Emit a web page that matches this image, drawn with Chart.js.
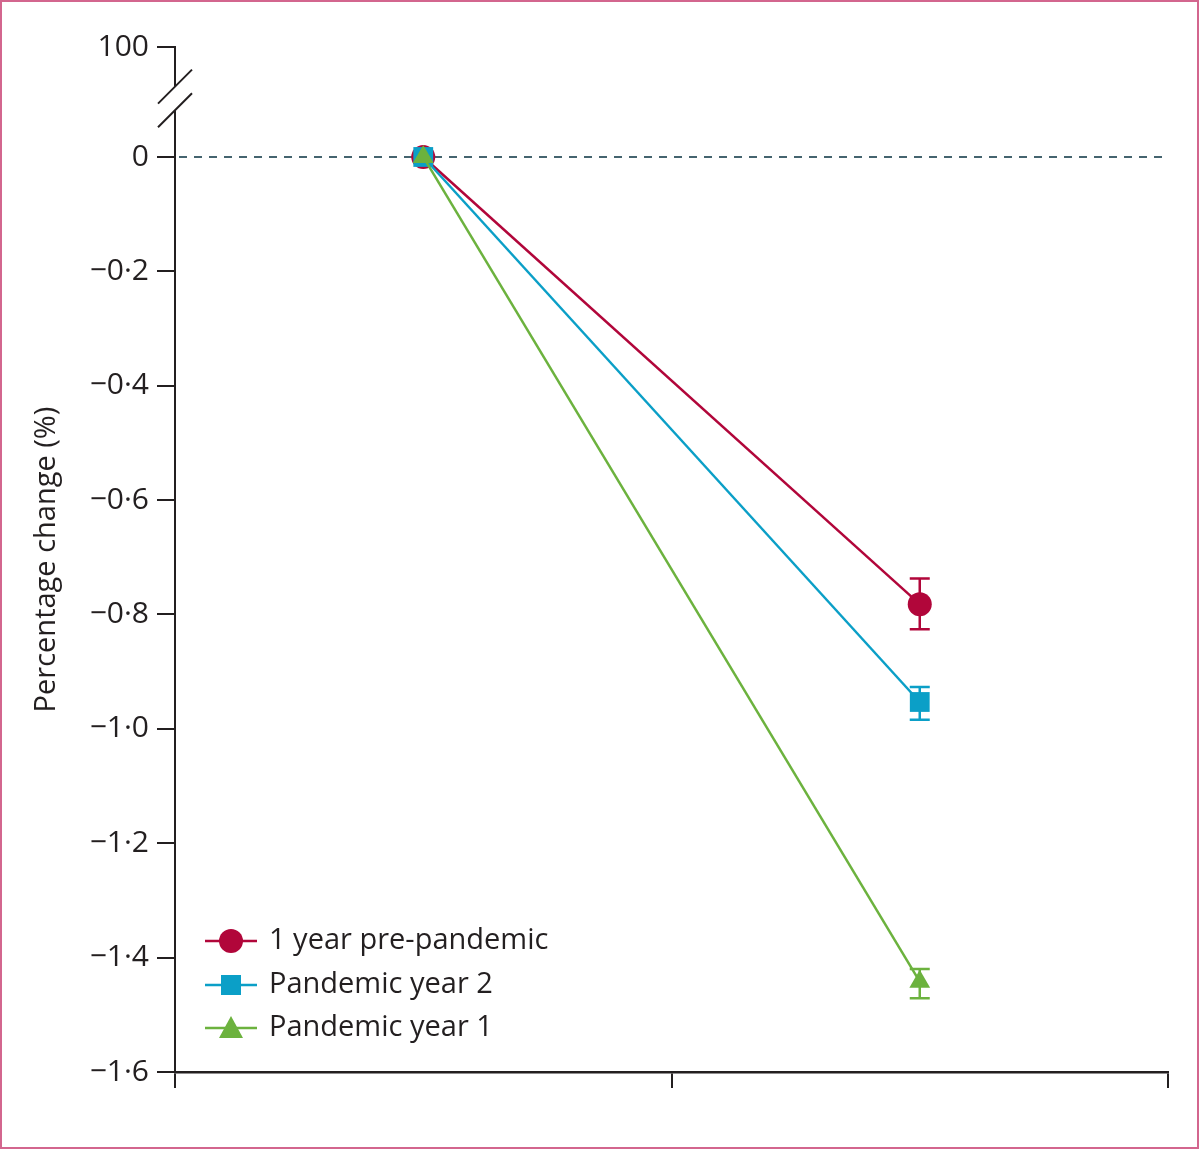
<!DOCTYPE html>
<html>
<head>
<meta charset="utf-8">
<script src="https://cdn.jsdelivr.net/npm/chart.js@4.4.1/dist/chart.umd.min.js"></script>
<style>
html,body{margin:0;padding:0;background:#fff;}
#wrap{width:1200px;height:1150px;position:relative;}
</style>
</head>
<body>
<div id="wrap"><canvas id="c" width="1200" height="1150"></canvas></div>
<script>
// ---- data ----
const categories = ['Baseline', 'Follow-up'];
const seriesNames = ['1 year pre-pandemic', 'Pandemic year 2', 'Pandemic year 1'];
const prePandemic = [0, -0.782];
const prePandemicLow = [0, -0.826];
const prePandemicHigh = [0, -0.737];
const pandemicYear2 = [0, -0.953];
const pandemicYear2Low = [0, -0.984];
const pandemicYear2High = [0, -0.927];
const pandemicYear1 = [0, -1.442];
const pandemicYear1Low = [0, -1.471];
const pandemicYear1High = [0, -1.420];
const yTickValues = [-1.6, -1.4, -1.2, -1.0, -0.8, -0.6, -0.4, -0.2, 0];
const yBreakTickLabel = '100';
const yBreakTickPos = 0.1923; // position where the broken axis shows 100

const RED = '#b1063a', BLUE = '#0b9fc7', GREEN = '#6cb23e';
const INK = '#231f20';
const FONT = '"Open Sans", Lato, sans-serif';

function fmt(v) {
  if (Math.abs(v - yBreakTickPos) < 1e-6) return yBreakTickLabel;
  if (Math.abs(v) < 1e-9) return '0';
  return v.toFixed(1).replace('-', '\u2212').replace('.', '\u00B7');
}

const errorBars = {
  id: 'errorBars',
  beforeDatasetsDraw(chart) {
    const ctx = chart.ctx, ys = chart.scales.y;
    chart.data.datasets.forEach((ds, i) => {
      const meta = chart.getDatasetMeta(i);
      meta.data.forEach((pt, j) => {
        const lo = ds.errLow[j], hi = ds.errHigh[j];
        if (lo === hi) return;
        const x = pt.x, y1 = ys.getPixelForValue(lo), y2 = ys.getPixelForValue(hi);
        ctx.save();
        ctx.strokeStyle = ds.borderColor; ctx.lineWidth = 2.5;
        ctx.beginPath();
        ctx.moveTo(x, y1); ctx.lineTo(x, y2);
        ctx.moveTo(x - 10, y1); ctx.lineTo(x + 10, y1);
        ctx.moveTo(x - 10, y2); ctx.lineTo(x + 10, y2);
        ctx.stroke();
        ctx.restore();
      });
    });
  }
};

const zeroLine = {
  id: 'zeroLine',
  beforeDatasetsDraw(chart) {
    const ctx = chart.ctx, a = chart.chartArea, y = chart.scales.y.getPixelForValue(0);
    ctx.save();
    ctx.strokeStyle = '#45646f'; ctx.lineWidth = 2; ctx.setLineDash([8, 7]);
    ctx.beginPath(); ctx.moveTo(a.left + 4, y); ctx.lineTo(a.right, y); ctx.stroke();
    ctx.restore();
  }
};

function drawMarker(ctx, style, x, y, color) {
  ctx.fillStyle = color;
  ctx.beginPath();
  if (style === 'circle') { ctx.arc(x, y, 12, 0, Math.PI * 2); }
  else if (style === 'rect') { ctx.rect(x - 10, y - 10, 20, 20); }
  else { ctx.moveTo(x, y - 12); ctx.lineTo(x + 12, y + 10); ctx.lineTo(x - 12, y + 10); ctx.closePath(); }
  ctx.fill();
}

const decor = {
  id: 'decor',
  afterDraw(chart) {
    const ctx = chart.ctx, a = chart.chartArea, ys = chart.scales.y;
    ctx.save();
    // axis break
    const yb = ys.getPixelForValue(yBreakTickPos);
    const y0 = ys.getPixelForValue(0);
    const c1 = yb + (y0 - yb) * 0.36, c2 = yb + (y0 - yb) * 0.575;
    ctx.fillStyle = '#fff';
    ctx.fillRect(a.left - 3, c1, 6, c2 - c1);
    ctx.strokeStyle = INK; ctx.lineWidth = 2;
    ctx.beginPath();
    ctx.moveTo(a.left - 17, c1 + 17); ctx.lineTo(a.left + 17, c1 - 17);
    ctx.moveTo(a.left - 17, c2 + 17); ctx.lineTo(a.left + 17, c2 - 17);
    ctx.stroke();
    // legend
    const rows = [941, 985, 1028];
    chart.data.datasets.forEach((ds, i) => {
      const y = rows[i];
      ctx.strokeStyle = ds.borderColor; ctx.lineWidth = 2.5;
      ctx.beginPath(); ctx.moveTo(205, y); ctx.lineTo(257, y); ctx.stroke();
      drawMarker(ctx, ds.pointStyle, 231, y, ds.borderColor);
      ctx.fillStyle = INK; ctx.font = '29px ' + FONT; ctx.textBaseline = 'middle'; ctx.textAlign = 'left';
      ctx.fillText(ds.label, 269, y);
    });
    // frame
    ctx.strokeStyle = '#d3668e'; ctx.lineWidth = 2;
    ctx.strokeRect(1, 1, 1197, 1147);
    ctx.restore();
  }
};

const mk = (label, data, lo, hi, color, style, order, radius) => ({
  label, data, errLow: lo, errHigh: hi, borderColor: color, backgroundColor: color,
  pointBackgroundColor: color, pointBorderColor: color, pointStyle: style,
  pointRadius: radius, pointBorderWidth: 0, borderWidth: 2.5, order
});

new Chart(document.getElementById('c'), {
  type: 'line',
  data: {
    labels: categories,
    datasets: [
      mk(seriesNames[0], prePandemic, prePandemicLow, prePandemicHigh, RED, 'circle', 2, 12),
      mk(seriesNames[1], pandemicYear2, pandemicYear2Low, pandemicYear2High, BLUE, 'rect', 1, 14),
      mk(seriesNames[2], pandemicYear1, pandemicYear1Low, pandemicYear1High, GREEN, 'triangle', 0, 12)
    ]
  },
  options: {
    responsive: false, animation: false, devicePixelRatio: 1,
    layout: { padding: { top: 47, right: 32, bottom: 0, left: 0 } },
    plugins: { legend: { display: false }, tooltip: { enabled: false } },
    scales: {
      x: {
        type: 'category', offset: true,
        grid: { offset: true, drawOnChartArea: false, drawTicks: true, tickLength: 16, color: INK, lineWidth: 2 },
        border: { display: true, color: INK, width: 2.5 },
        ticks: { display: false },
        afterFit(s) { s.height = 78; }
      },
      y: {
        min: -1.6, max: yBreakTickPos,
        afterBuildTicks(s) { s.ticks = yTickValues.concat([yBreakTickPos]).map(v => ({ value: v })); },
        grid: { drawOnChartArea: false, drawTicks: true, tickLength: 18, color: INK, lineWidth: 2 },
        border: { display: true, color: INK, width: 2 },
        ticks: { color: INK, font: { family: FONT, size: 30 }, padding: 8, callback: v => fmt(v) },
        title: { display: true, text: 'Percentage change (%)', color: INK, font: { family: FONT, size: 29 }, padding: { top: 29, bottom: 0 } },
        afterFit(s) { s.width = 175; }
      }
    }
  },
  plugins: [zeroLine, errorBars, decor]
});
</script>
</body>
</html>
